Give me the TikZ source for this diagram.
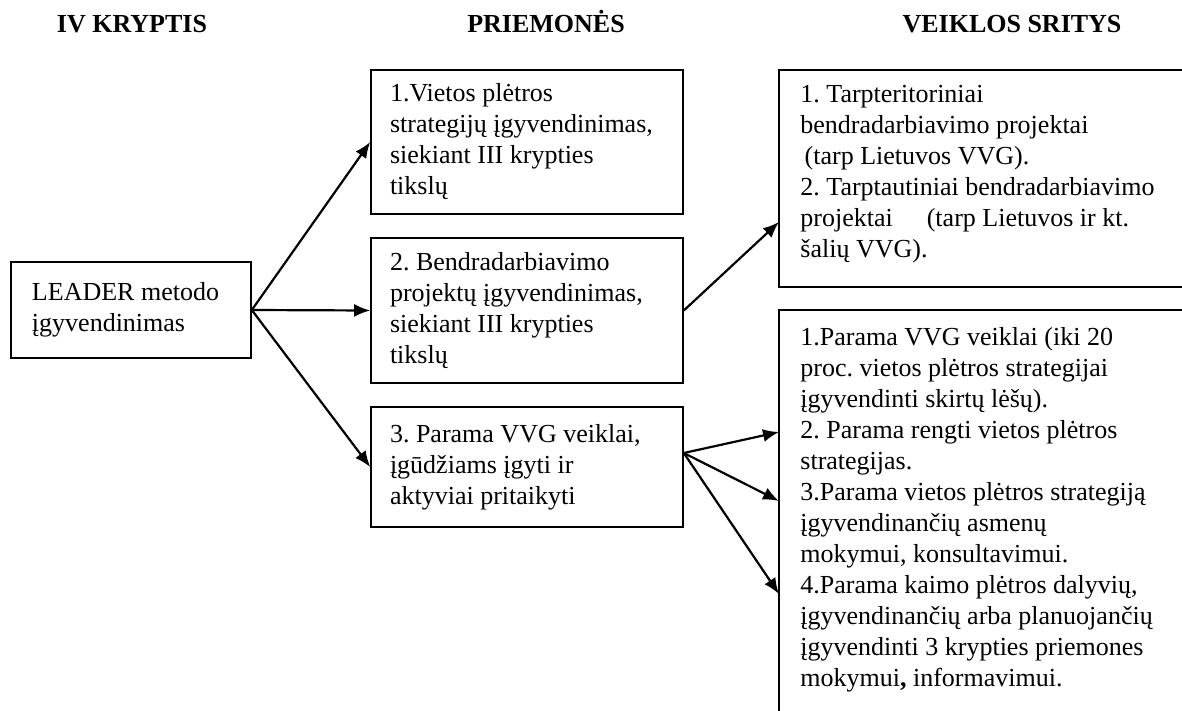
\documentclass[tikz,border=0pt]{standalone}
\usepackage{fontspec}
\setmainfont{Liberation Serif}
\usetikzlibrary{arrows.meta}

\begin{document}
\begin{tikzpicture}[x=0.5pt, y=-0.5pt,
  box/.style={draw, line width=0.8pt, align=flush left, text width=137pt, inner xsep=9.5pt, font=\fontsize{13}{15.5}\selectfont\frenchspacing},
  txt/.style={align=flush left, inner sep=0pt, anchor=north west, font=\fontsize{13}{15.5}\selectfont\frenchspacing},
  head/.style={anchor=base, inner sep=0pt, font=\fontsize{13}{15.5}\selectfont\bfseries},
  arr/.style={-{Latex[length=8pt,width=6.5pt]}, line width=1.1pt}]
\useasboundingbox (0,0) rectangle (1182,711);
\node[head] (HeadA) at (132,33) {IV KRYPTIS};
\node[head] (HeadB) at (546,33) {PRIEMONĖS};
\node[head] (HeadC) at (1012,33) {VEIKLOS SRITYS};
\node[box, text width=99pt, inner xsep=10.5pt, minimum height=48pt] (Leader) at (131,310) {LEADER metodo\\ įgyvendinimas};
\node[box, minimum height=72pt] (Prm1) at (527,142) {1.Vietos plėtros\\ strategijų įgyvendinimas,\\ siekiant III krypties\\ tikslų};
\node[box, minimum height=72.5pt] (Prm2) at (527,310.5) {2. Bendradarbiavimo\\ projektų įgyvendinimas,\\ siekiant III krypties\\ tikslų};
\node[box, minimum height=60pt] (Prm3) at (527,467) {3. Parama VVG veiklai,\\ įgūdžiams įgyti ir\\ aktyviai pritaikyti};
\draw[line width=0.8pt] (1182,70) -- (779,70) -- (779,287) -- (1182,287);
\draw[line width=0.8pt] (1182,310) -- (779,310) -- (779,711);
\node[txt] (Sritys1) at (800,85) {1. Tarpteritoriniai\\ bendradarbiavimo projektai\\ \,(tarp Lietuvos VVG).\\ 2. Tarptautiniai bendradarbiavimo\\ projektai\hspace{17pt}(tarp Lietuvos ir kt.\\ šalių VVG).};
\node[txt] (Sritys2) at (800,327) {1.Parama VVG veiklai (iki 20\\ proc. vietos plėtros strategijai\\ įgyvendinti skirtų lėšų).\\ 2. Parama rengti vietos plėtros\\ strategijas.\\ 3.Parama vietos plėtros strategiją\\ įgyvendinančių asmenų\\ mokymui, konsultavimui.\\ 4.Parama kaimo plėtros dalyvių,\\ įgyvendinančių arba planuojančių\\ įgyvendinti 3 krypties priemones\\ mokymui\textbf{,} informavimui.};
\coordinate (InA) at (779,222);
\coordinate (InB1) at (779,432);
\coordinate (InB2) at (779,501);
\coordinate (InB3) at (779,594);
\draw[arr] (Leader.east) -- (Prm1.west);
\draw[arr] (Leader.east) -- (Prm2.west);
\draw[arr] (Leader.east) -- (Prm3.west);
\draw[arr] (Prm2.east) -- (InA);
\foreach \t in {InB1,InB2,InB3}\draw[arr] ([yshift=7pt]Prm3.east) -- (\t);
\end{tikzpicture}
\end{document}
